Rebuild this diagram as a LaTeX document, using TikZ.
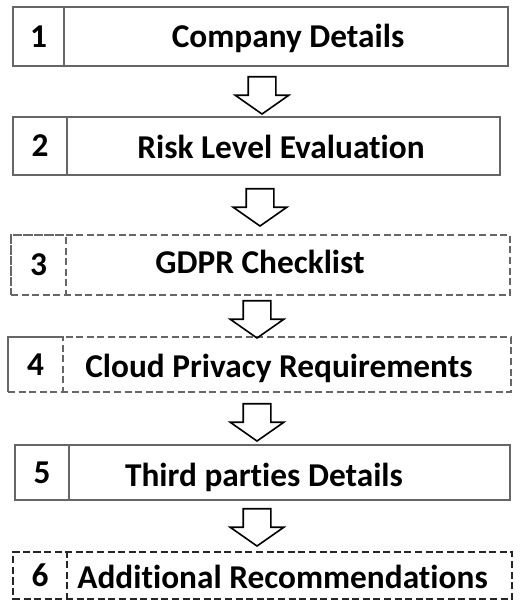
\documentclass[tikz,border=0pt]{standalone}
\usepackage{fontspec}
\setmainfont{Carlito}[Ligatures=NoCommon]
\usetikzlibrary{shapes.arrows}

\begin{document}
\begin{tikzpicture}[x=0.25mm, y=-0.25mm,
    every node/.style={font=\fontsize{23.7}{28}\selectfont\bfseries},
    stepbox/.style={draw=black!60, line width=0.6mm, inner sep=0pt},
    optbox/.style={stepbox, dash pattern=on 1.75mm off 0.9mm},
    txt/.style={inner sep=0pt, text height=15pt, text depth=0pt},
    flow/.style={draw, line width=0.4mm, single arrow, shape border rotate=270,
      inner sep=3.25mm, minimum height=8.75mm, minimum width=13mm,
      single arrow head extend=3.25mm, single arrow tip angle=110, anchor=tip}
  ]
    \useasboundingbox (0,0) rectangle (531,614);

    % Step 1
    \node[stepbox, minimum width=123.75mm, minimum height=14.75mm] (s1) at (260.5,36.5) {};
    \node[stepbox, txt, minimum width=12.75mm, minimum height=14.75mm, anchor=west] (n1) at (s1.west) {1};
    \node[txt] (t1) at (288,37) {Company Details};

    % Step 2
    \node[stepbox, minimum width=121.75mm, minimum height=14.5mm] (s2) at (256.5,146) {};
    \node[stepbox, txt, minimum width=13.5mm, minimum height=14.5mm, anchor=west] (n2) at (s2.west) {2};
    \node[txt] (t2) at (281,148) {Risk Level Evaluation};

    % Step 3 (optional)
    \node[optbox, minimum width=124.75mm, minimum height=15mm] (s3) at (260.5,265) {};
    \node[optbox, txt, minimum width=13.75mm, minimum height=15mm, anchor=west] (n3) at (s3.west) {3};
    \node[txt] (t3) at (260,263) {GDPR Checklist};

    % Step 4 (optional)
    \node[optbox, minimum width=125.75mm, minimum height=13.75mm] (s4) at (259.5,364.5) {};
    \node[optbox, txt, minimum width=13.75mm, minimum height=13.75mm, anchor=west] (n4) at (s4.west) {4};
    \node[txt] (t4) at (279,367) {Cloud Privacy Requirements};

    % Step 5
    \node[stepbox, minimum width=123.75mm, minimum height=13.75mm] (s5) at (262.5,472.5) {};
    \node[stepbox, txt, minimum width=13.5mm, minimum height=13.75mm, anchor=west] (n5) at (s5.west) {5};
    \node[txt] (t5) at (264,476) {Third parties Details};

    % Step 6 (optional)
    \node[optbox, draw=black!85, minimum width=124.75mm, minimum height=11.75mm] (s6) at (262.5,575.5) {};
    \node[optbox, draw=black!85, txt, minimum width=13.5mm, minimum height=11.75mm, anchor=west] (n6) at (s6.west) {6};
    \node[txt] (t6) at (282.5,578) {Additional Recommendations};

    % Arrows between steps
    \node[flow] (a1) at (262,115) {};
    \node[flow] (a2) at (260,227) {};
    \node[flow] (a3) at (257,339) {};
    \node[flow] (a4) at (257,442) {};
    \node[flow] (a5) at (257,547) {};
\end{tikzpicture}
\end{document}
